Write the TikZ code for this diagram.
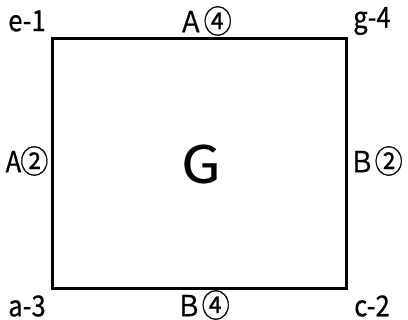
\documentclass[tikz,border=0pt]{standalone}
\usepackage{fontspec}
\setmainfont{Noto Sans CJK JP}
\newfontfamily\lblfont[FakeBold=0.6]{Noto Sans CJK JP}
\newcommand{\cond}[1]{\scalebox{0.88}[1]{#1}}
\newcommand{\circd}[1]{\raisebox{-0.03em}{\scalebox{1.1}{#1}}}
\begin{document}
\begin{tikzpicture}[x=1pt,y=-1pt,
  lbl/.style={inner sep=0pt,font=\lblfont\fontsize{29}{32}\selectfont},
  big/.style={inner sep=0pt,font=\lblfont\fontsize{51}{58}\selectfont},
  frame/.style={draw=black,line width=3pt}]
\useasboundingbox (0,0) rectangle (408,320);
\draw[frame] (52,39) rectangle (346,289);
\node[lbl] (tl) at (27,21) {\cond{e-1}};
\node[lbl] (tm) at (205,21) {\cond{Ａ\circd{④}}};
\node[lbl] (tr) at (372,21) {\cond{g-4}};
\node[lbl] (ml) at (27,161) {\cond{A\kern-1pt\circd{②}}};
\node[big] (c) at (201,164) {\scalebox{1.12}[1]{G}};
\node[lbl] (mr) at (376,161) {\cond{Ｂ\circd{②}}};
\node[lbl] (bl) at (27,306) {\cond{a-3}};
\node[lbl] (bm) at (203,305) {\cond{Ｂ\circd{④}}};
\node[lbl] (br) at (372,306) {\cond{c-2}};
\end{tikzpicture}
\end{document}
